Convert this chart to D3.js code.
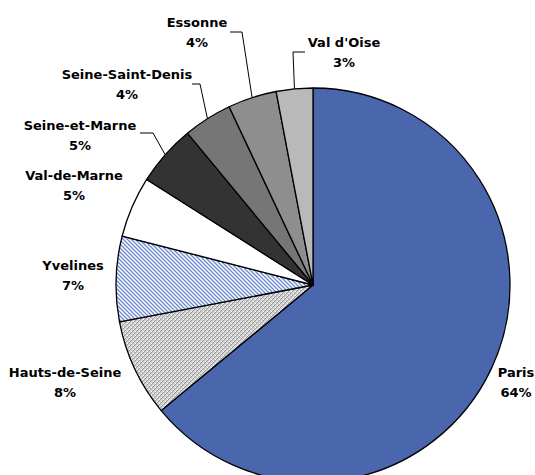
<!DOCTYPE html>
<html lang="fr">
<head>
  <meta charset="UTF-8" />
  <title>Répartition par département</title>
  <style>
    body { margin: 0; padding: 0; background: #fff; }
    svg { display: block; }
    .lbl { font-family: "DejaVu Sans", sans-serif; font-weight: bold; font-size: 13px; fill: #000; }
    .leader { fill: none; stroke: #000; stroke-width: 1; }
  </style>
  <script src="https://d3js.org/d3.v7.min.js"></script>
</head>
<body>
  <svg width="535" height="475"></svg>
  <script>
    // data
    const departements = ["Paris", "Hauts-de-Seine", "Yvelines", "Val-de-Marne",
                          "Seine-et-Marne", "Seine-Saint-Denis", "Essonne", "Val d'Oise"];
    const parts = [64, 8, 7, 5, 5, 4, 4, 3];
    const pctLabels = ["64%", "8%", "7%", "5%", "5%", "4%", "4%", "3%"];

    // slice fills (pattern ids or plain colours)
    const fills = ["#4a66ac", "url(#dots)", "url(#hatch)", "#ffffff",
                   "#333333", "#767676", "#8e8e8e", "#b9b9b9"];

    // label layout: centre x, first baseline y, and optional leader start
    const labelPos = [
      { x: 516, y: 377 },
      { x: 65,  y: 377 },
      { x: 73,  y: 270 },
      { x: 74,  y: 180 },
      { x: 80,  y: 130, lead: [140, 133, 153] },
      { x: 127, y: 79,  lead: [192, 84, 200] },
      { x: 197, y: 27,  lead: [230, 32, 242] },
      { x: 344, y: 47,  lead: [305, 52, 293] }
    ];

    const svg = d3.select("svg");
    const cx = 313, cy = 285, r = 197;

    const defs = svg.append("defs");
    const dots = defs.append("pattern").attr("id", "dots")
      .attr("patternUnits", "userSpaceOnUse").attr("width", 4).attr("height", 4);
    dots.append("rect").attr("width", 4).attr("height", 4).attr("fill", "#d2d2d2");
    [[1, 0], [0, 1], [3, 2], [2, 3]].forEach(p =>
      dots.append("rect").attr("x", p[0]).attr("y", p[1]).attr("width", 1).attr("height", 1).attr("fill", "#999999"));
    [[0, 0], [2, 2]].forEach(p =>
      dots.append("rect").attr("x", p[0]).attr("y", p[1]).attr("width", 1).attr("height", 1).attr("fill", "#ffffff"));

    const hatch = defs.append("pattern").attr("id", "hatch")
      .attr("patternUnits", "userSpaceOnUse").attr("width", 4).attr("height", 4);
    hatch.append("rect").attr("width", 4).attr("height", 4).attr("fill", "#ffffff");
    hatch.append("path").attr("d", "M-1,-1L5,5M-1,3L1,5M3,-1L5,1")
      .attr("stroke", "#6d89cf").attr("stroke-width", 1.3);

    // title sits mostly above the visible area, as in the source
    svg.append("text")
      .attr("x", 267).attr("y", -3)
      .attr("text-anchor", "middle")
      .attr("font-family", "DejaVu Sans, sans-serif")
      .attr("font-weight", "bold")
      .attr("font-size", 16)
      .attr("fill", "#0070c0")
      .text("Répartition par département");

    const pie = d3.pie().sort(null).value(d => d)(parts);
    const arc = d3.arc().innerRadius(0).outerRadius(r);

    const g = svg.append("g").attr("transform", `translate(${cx},${cy})`);
    g.selectAll("path")
      .data(pie)
      .join("path")
      .attr("d", arc)
      .attr("fill", (d, i) => fills[i])
      .attr("stroke", "#000")
      .attr("stroke-width", 1.3)
      .attr("stroke-linejoin", "round");

    // leader lines: from label side to slice rim at mid angle
    pie.forEach((d, i) => {
      const p = labelPos[i];
      if (!p.lead) return;
      const a = (d.startAngle + d.endAngle) / 2;
      const ex = cx + r * Math.sin(a), ey = cy - r * Math.cos(a);
      svg.append("path").attr("class", "leader")
        .attr("d", d3.line()([[p.lead[0], p.lead[1]], [p.lead[2], p.lead[1]], [ex, ey]]));
    });

    const labels = svg.append("g").selectAll("text")
      .data(departements)
      .join("text")
      .attr("class", "lbl")
      .attr("text-anchor", "middle")
      .attr("x", (d, i) => labelPos[i].x)
      .attr("y", (d, i) => labelPos[i].y);
    labels.append("tspan").text(d => d);
    labels.append("tspan")
      .attr("x", (d, i) => labelPos[i].x)
      .attr("dy", 20)
      .text((d, i) => pctLabels[i]);
  </script>
</body>
</html>
